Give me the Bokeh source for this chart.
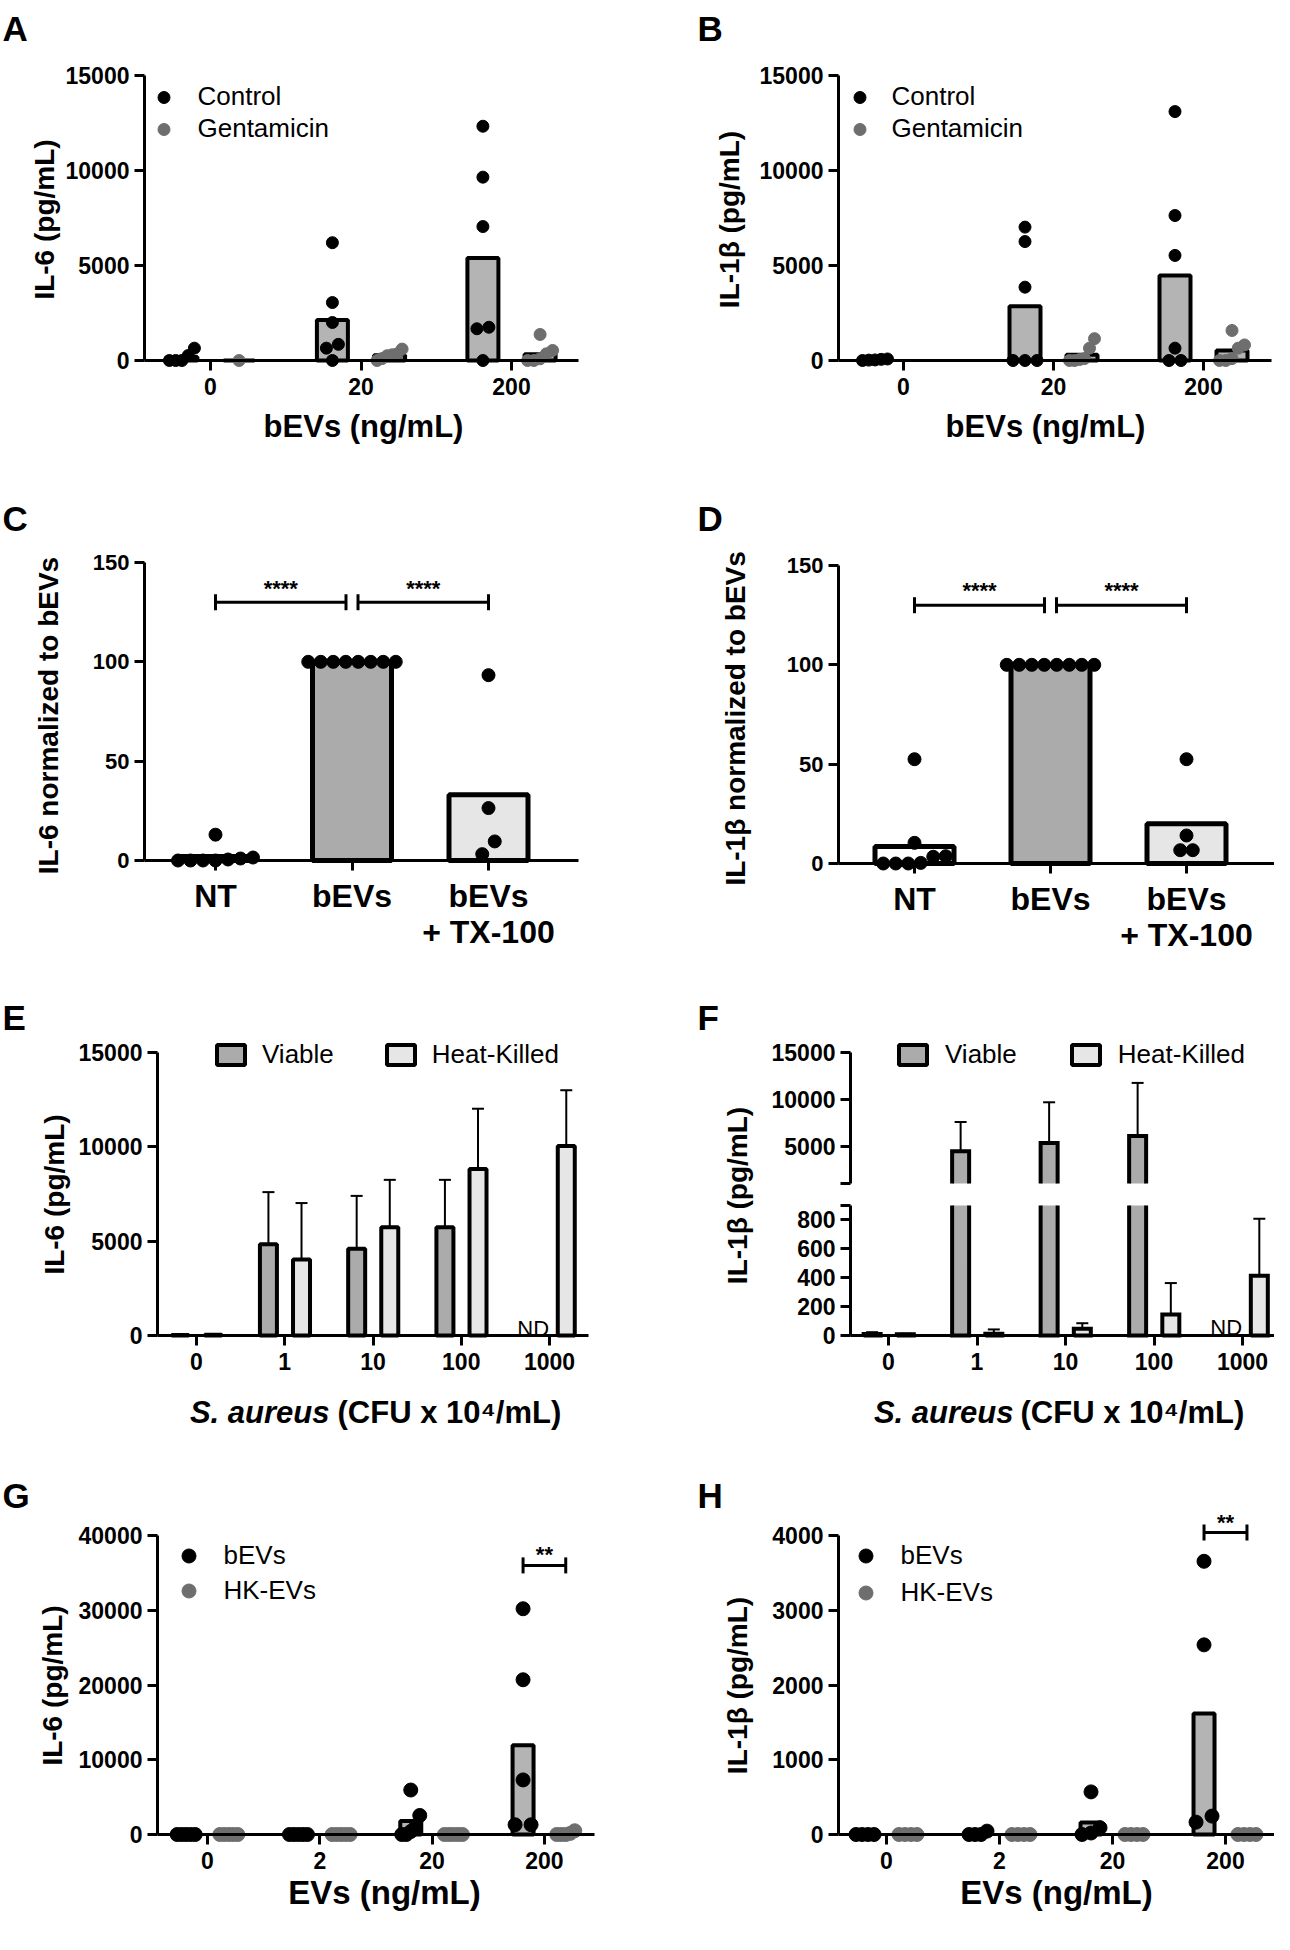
import math
from bokeh.plotting import figure
from bokeh.models import Range1d, FixedTicker, Label, Legend, LegendItem
from bokeh.layouts import row, column
from bokeh.embed import file_html
from bokeh.resources import INLINE

FONT = "Liberation Sans"

# ---------------- data ----------------
cats_AB = ["0", "20", "200"]
A_control = [[650, 260, 0, 0, 0],
             [6200, 3050, 2000, 850, 650, 0],
             [12330, 9650, 7050, 1750, 1670, 0]]
A_gentamicin = [[0],
                [600, 350, 300, 250, 100, 0],
                [1370, 530, 350, 90, 0, 0]]
A_control_bar = [180, 2130, 5400]
A_gentamicin_bar = [0, 270, 330]

B_control = [[80, 60, 30, 20, 0],
             [7020, 6260, 3860, 0, 0, 0],
             [13100, 7630, 5530, 650, 0, 0]]
B_gentamicin = [[],
                [1150, 650, 100, 50, 0, 0],
                [1580, 820, 650, 100, 0, 0]]
B_control_bar = [40, 2860, 4480]
B_gentamicin_bar = [None, 300, 520]

cats_CD = ["NT", "bEVs", "bEVs\n+ TX-100"]
C_points = [[13, 1.5, 1.0, 0.5, 0, 0, 0, 0],
            [100, 100, 100, 100, 100, 100, 100, 100],
            [93.3, 26.4, 9.6, 3.2]]
C_bar = [2.0, 100, 33.1]
D_points = [[52.5, 10.4, 3.7, 3.4, 0.3, 0, 0, 0],
            [100, 100, 100, 100, 100, 100, 100, 100],
            [52.5, 14.1, 6.7, 6.7]]
D_bar = [8.5, 100, 20.0]

cats_EF = ["0", "1", "10", "100", "1000"]
E_viable_mean = [30, 4830, 4600, 5740, None]
E_viable_sd = [0, 2770, 2800, 2510, None]
E_heatkilled_mean = [40, 4030, 5740, 8830, 10050]
E_heatkilled_sd = [0, 2990, 2510, 3190, 2950]
F_viable_mean = [10, 4450, 5320, 6070, None]
F_viable_sd = [13, 3120, 4360, 5680, None]
F_heatkilled_mean = [8, 12, 46, 145, 414]
F_heatkilled_sd = [4, 30, 39, 218, 395]

cats_GH = ["0", "2", "20", "200"]
G_bevs = [[0, 0, 0, 0, 0], [0, 0, 0, 0, 0],
          [5950, 2550, 900, 400, 0, 0], [30200, 20700, 7300, 1300, 1300]]
G_hkevs = [[0, 0, 0, 0, 0], [0, 0, 0, 0, 0], [0, 0, 0, 0, 0], [500, 150, 0, 0, 0]]
G_bevs_bar = [0, 0, 1800, 11950]
G_hkevs_bar = [0, 0, 0, 130]
H_bevs = [[0, 0, 0, 0], [45, 0, 0, 0], [570, 90, 20, 0], [3655, 2537, 246, 165]]
H_hkevs = [[0, 0, 0, 0], [0, 0, 0, 0], [0, 0, 0, 0], [0, 0, 0, 0]]
H_bevs_bar = [0, 10, 160, 1620]
H_hkevs_bar = [0, 0, 0, 0]

# ---------------- styles ----------------
DOT_GRAY = "#6e6e6e"
BAR_GRAY = "#b4b4b4"
BAR_DARK = "#ababab"
BAR_LIGHT = "#e6e6e6"
LETTER_SIZE = 35
TICK_SIZE = 23
YTITLE_SIZE = 28


class Panel:
    """Figure whose frame covers (fl..fr, ft..fb) in page pixels; mapping given by
    category tick positions (tick0, spacing) and two value/pixel pairs."""

    def __init__(self, X0, Y0, W, H, fl, fr, ft, fb, tick0, sp, vtop, ptop, vbot, pbot):
        self.fl, self.fr, self.ft, self.fb = fl, fr, ft, fb
        self.x0 = -(tick0 - fl) / sp
        self.x1 = self.x0 + (fr - fl) / sp
        per = (vtop - vbot) / (pbot - ptop)
        self.y0 = vbot - (fb - pbot) * per
        self.y1 = vtop + (ptop - ft) * per
        self.fig = figure(width=W, height=H,
                          x_range=Range1d(self.x0, self.x1), y_range=Range1d(self.y0, self.y1),
                          min_border_left=int(fl - X0), min_border_right=int(X0 + W - fr),
                          min_border_top=int(ft - Y0), min_border_bottom=int(Y0 + H - fb),
                          output_backend="svg", toolbar_location=None, tools="")
        p = self.fig
        p.xgrid.visible = False
        p.ygrid.visible = False
        p.outline_line_color = None
        p.background_fill_color = "white"
        p.border_fill_color = "white"

    @property
    def px_x(self):
        return (self.fr - self.fl) / (self.x1 - self.x0)

    @property
    def px_y(self):
        return (self.fb - self.ft) / (self.y1 - self.y0)

    def dx(self, px):
        return self.x0 + (px - self.fl) / self.px_x

    def dy(self, py):
        return self.y1 - (py - self.ft) / self.px_y


def style_axes(P, ncat, cat_labels, yticks, ybounds, ax_left, ax_right,
               y_overrides=None, xfs=TICK_SIZE, yfs=TICK_SIZE, show_x=True, x_line_height=1.0):
    p = P.fig
    xa, ya = p.xaxis[0], p.yaxis[0]
    for ax in (xa, ya):
        ax.axis_line_width = 3
        ax.axis_line_color = "black"
        ax.major_tick_line_width = 3
        ax.major_tick_line_color = "black"
        ax.major_tick_out = 10
        ax.major_tick_in = 0
        ax.minor_tick_line_color = None
        ax.major_label_text_font = FONT
        ax.major_label_text_font_style = "bold"
        ax.major_label_text_color = "black"
    if show_x:
        xa.ticker = FixedTicker(ticks=list(range(ncat)))
        xa.major_label_overrides = {i: c for i, c in enumerate(cat_labels)}
        xa.fixed_location = 0
        xa.bounds = (P.dx(ax_left), P.dx(ax_right))
        xa.major_label_text_font_size = f"{xfs}px"
        xa.major_label_text_line_height = x_line_height
        xa.major_label_standoff = 7
    else:
        xa.visible = False
    ya.ticker = FixedTicker(ticks=yticks)
    ya.bounds = ybounds
    ya.fixed_location = P.dx(ax_left)
    ya.major_label_text_font_size = f"{yfs}px"
    ya.major_label_standoff = 5
    if y_overrides:
        ya.major_label_overrides = y_overrides


def spread(vals, px_per_y, diam, spacing, max_span):
    n = len(vals)
    order = sorted(range(n), key=lambda i: vals[i])
    clusters = []
    for i in order:
        if clusters and (vals[i] - vals[clusters[-1][-1]]) * px_per_y < diam:
            clusters[-1].append(i)
        else:
            clusters.append([i])
    off = [0.0] * n
    for cl in clusters:
        m = len(cl)
        s = min(spacing, max_span / (m - 1)) if m > 1 else 0
        for k, i in enumerate(cl):
            off[i] = (k - (m - 1) / 2) * s
    return off


def dots(P, groups, offset, color, diam, spacing, max_span):
    xs, ys = [], []
    for i, vals in enumerate(groups):
        off = spread(vals, P.px_y, diam, spacing, max_span)
        for v, o in zip(vals, off):
            xs.append(i + offset + o / P.px_x)
            ys.append(v)
    return P.fig.scatter(xs, ys, size=diam, fill_color=color, line_color=color)


def bars(P, heights, offset, width_px, fill, lw):
    xs = [i + offset for i, h in enumerate(heights) if h is not None]
    tops = [h for h in heights if h is not None]
    return P.fig.vbar(x=xs, top=tops, bottom=0, width=width_px / P.px_x,
                      fill_color=fill, line_color="black", line_width=lw)


def seg_bars(P, heights, offset, width_px, fill, lw, lo, hi):
    """Part of each bar lying between lo and hi (broken axis); cut ends stay open."""
    hw = width_px / P.px_x / 2
    fx, ftop, fbot, paths_x, paths_y = [], [], [], [], []
    for i, h in enumerate(heights):
        if h is None or h <= lo:
            continue
        x = i + offset
        bot = max(0, lo)
        top = min(h, hi)
        fx.append(x)
        ftop.append(top)
        fbot.append(bot)
        top_closed = h <= hi
        bot_closed = lo <= 0
        l, r = x - hw, x + hw
        if top_closed and bot_closed:
            paths_x.append([l, l, r, r, l])
            paths_y.append([bot, top, top, bot, bot])
        elif top_closed:
            paths_x.append([l, l, r, r])
            paths_y.append([bot, top, top, bot])
        elif bot_closed:
            paths_x.append([l, l, r, r])
            paths_y.append([top, bot, bot, top])
        else:
            paths_x += [[l, l], [r, r]]
            paths_y += [[bot, top], [bot, top]]
    P.fig.vbar(x=fx, top=ftop, bottom=fbot, width=2 * hw, fill_color=fill, line_color=None)
    P.fig.multi_line(xs=paths_x, ys=paths_y, line_color="black", line_width=lw,
                     line_join="miter")
    # swatch renderer for the legend only (its single bar is undefined, so nothing is drawn)
    nan = float("nan")
    return P.fig.vbar(x=[nan], top=[nan], bottom=[nan], width=2 * hw, fill_color=fill,
                      line_color="black", line_width=lw)


def errbars(P, means, sds, offset, lw=2, cap=12, lo=None, hi=None):
    xs, y0, y1 = [], [], []
    for i, (m, s) in enumerate(zip(means, sds)):
        if m is None or s is None or s <= 0:
            continue
        if lo is not None and m < lo:
            continue
        if hi is not None and m + s > hi:
            continue
        xs.append(i + offset)
        y0.append(m)
        y1.append(m + s)
    P.fig.segment(x0=xs, y0=y0, x1=xs, y1=y1, line_width=lw, line_color="black")
    P.fig.scatter(xs, y1, marker="dash", size=cap, line_width=lw, line_color="black")


def bracket(P, xa, xb, y, lw=3, cap=16):
    P.fig.segment(x0=[xa], y0=[y], x1=[xb], y1=[y], line_width=lw, line_color="black")
    P.fig.scatter([xa, xb], [y, y], marker="dash", angle=math.pi / 2, size=cap,
                  line_width=lw, line_color="black")


def txt(P, px, py, text, size, style="bold", align="left", baseline="alphabetic",
        angle=0.0, data_x=None, data_y=None):
    x = P.dx(px) if data_x is None else data_x
    y = P.dy(py) if data_y is None else data_y
    P.fig.add_layout(Label(x=x, y=y, x_units="data", y_units="data", text=text,
                           text_font=FONT, text_font_size=f"{size}px",
                           text_font_style=style, text_align=align,
                           text_baseline=baseline, angle=angle, text_color="black"))


def legend(P, items, left_px, top_px, gw, gh, standoff, spacing, orientation="vertical",
           label_h=30, fs=26):
    n = len(items)
    item_h = max(gh, label_h)
    height = item_h if orientation == "horizontal" else n * item_h + (n - 1) * spacing
    vx = left_px - P.fl
    vy = P.fb - (top_px + height)
    leg = Legend(items=[LegendItem(label=l, renderers=[r]) for l, r in items],
                 location=(vx, vy), orientation=orientation,
                 glyph_width=int(gw), glyph_height=int(gh), label_standoff=int(round(standoff)),
                 spacing=int(spacing), padding=0, margin=0, border_line_color=None,
                 background_fill_alpha=0, label_text_font=FONT,
                 label_text_font_size=f"{fs}px", label_height=int(label_h),
                 label_text_color="black")
    P.fig.add_layout(leg)


def ytitle(P, px, py, text, size):
    txt(P, px, py, text, size, align="center", baseline="middle", angle=math.pi / 2)


# ---------------- panel A / B ----------------
def dose_panel(X0, axl, axr, tick0, sp, control, gent, cbar, gbar, letter, letter_x,
               ylab, ylab_x, xlab_x, mk_x, txt_x):
    P = Panel(X0, 8, 637, 482, X0, X0 + 637, 8, 490, tick0, sp, 15000, 83, 0, 368)
    style_axes(P, 3, cats_AB, [0, 5000, 10000, 15000], (0, 15000), axl, axr)
    bars(P, cbar, -0.19, 31, BAR_GRAY, 4)
    bars(P, gbar, 0.19, 31, BAR_GRAY, 4)
    rc = dots(P, control, -0.19, "black", 12, 12, 25)
    rg = dots(P, gent, 0.19, DOT_GRAY, 12, 12, 25)
    legend(P, [("Control", rc), ("Gentamicin", rg)], mk_x - 16.5, 91, 33, 30,
           txt_x - (mk_x + 16.5), 1)
    txt(P, letter_x, 36, letter, LETTER_SIZE)
    ytitle(P, ylab_x, 227, ylab, YTITLE_SIZE)
    txt(P, xlab_x, 434, "bEVs (ng/mL)", 31, align="center", baseline="middle")
    return P.fig


pA = dose_panel(8, 152, 586, 218, 150.5, A_control, A_gentamicin, A_control_bar,
                A_gentamicin_bar, "A", 10, "IL-6 (pg/mL)", 52, 371, 171, 206)
pB = dose_panel(645, 846, 1279, 911, 150, B_control, B_gentamicin, B_control_bar,
                B_gentamicin_bar, "B", 705, "IL-1β (pg/mL)", 737, 1053, 867, 899)


# ---------------- panel C / D ----------------
def norm_panel(X0, axl, axr, tick0, sp, p150, p0, pts, bar, letter, letter_x,
               ylab, ylab_x, ylab_y, star_y):
    P = Panel(X0, 490, 637, 485, X0, X0 + 637, 490, 975, tick0, sp, 150, p150, 0, p0)
    style_axes(P, 3, cats_CD, [0, 50, 100, 150], (0, 150), axl, axr, xfs=32, yfs=22)
    fills = ["white", BAR_DARK, BAR_LIGHT]
    for i, h in enumerate(bar):
        P.fig.vbar(x=[i], top=[h], bottom=0, width=79 / P.px_x, fill_color=fills[i],
                   line_color="black", line_width=5)
    dots(P, pts, 0.0, "black", 13, 12.5, 90)
    gap = 6 / P.px_x
    bracket(P, 0, 1 - gap, 130)
    bracket(P, 1 + gap, 2, 130)
    txt(P, 0, star_y, "****", 22, align="center", data_x=(1 - gap) / 2)
    txt(P, 0, star_y, "****", 22, align="center", data_x=(3 + gap) / 2)
    txt(P, letter_x, 526, letter, LETTER_SIZE)
    ytitle(P, ylab_x, ylab_y, ylab, 28)
    return P.fig


pC = norm_panel(8, 152, 586, 223, 136.5, 570, 868, C_points, C_bar, "C", 10,
                "IL-6 normalized to bEVs", 56, 723, 596)
pD = norm_panel(645, 846, 1282, 922, 136, 573, 871, D_points, D_bar, "D", 705,
                "IL-1β  normalized to bEVs", 743, 722, 598)

# ---------------- panel E ----------------
PE = Panel(8, 975, 637, 485, 8, 645, 975, 1460, 204, 88.25, 15000, 1060, 0, 1343)
style_axes(PE, 5, cats_EF, [0, 5000, 10000, 15000], (0, 15000), 165, 596)
rv = bars(PE, E_viable_mean, -0.185, 17, BAR_DARK, 4)
rh = bars(PE, E_heatkilled_mean, 0.19, 17, BAR_LIGHT, 4)
errbars(PE, E_viable_mean, E_viable_sd, -0.185)
errbars(PE, E_heatkilled_mean, E_heatkilled_sd, 0.19)
legend(PE, [("Viable", rv), ("Heat-Killed", rh)], 221, 1048, 35, 25, 14, 49,
       orientation="horizontal")
for i, m in enumerate(E_viable_mean):
    if m is None:
        txt(PE, 0, 1336, "ND", 22, style="normal", align="center", data_x=i - 0.185)
txt(PE, 10, 1025, "E", LETTER_SIZE)
ytitle(PE, 62, 1202, "IL-6 (pg/mL)", YTITLE_SIZE)
txt(PE, 337, 1420, "S. aureus", 31, style="bold italic", align="right", baseline="middle")
txt(PE, 345, 1420, "(CFU x 10⁴/mL)", 31, align="left", baseline="middle")
pE = PE.fig

# ---------------- panel F (broken axis: two stacked frames) ----------------
F_BREAK_LOW = 900     # top of the lower segment
F_BREAK_HIGH = 1000   # bottom of the upper segment

PFt = Panel(645, 975, 120, 485, 645, 765, 975, 1460, 645, 1, 1, 975, 0, 1460)
PFt.fig.xaxis.visible = False
PFt.fig.yaxis.visible = False
txt(PFt, 705, 1025, "F", LETTER_SIZE)
ytitle(PFt, 745, 1203, "IL-1β (pg/mL)", YTITLE_SIZE)

PFu = Panel(765, 975, 517, 225, 765, 1282, 975, 1200, 896, 88.5,
            15000, 1060, F_BREAK_HIGH, 1191)
style_axes(PFu, 5, cats_EF, [F_BREAK_HIGH, 5000, 10000, 15000], (F_BREAK_HIGH, 15000),
           858, 1282, y_overrides={F_BREAK_HIGH: ""}, show_x=False)
PFl = Panel(765, 1200, 517, 260, 765, 1282, 1200, 1460, 896, 88.5,
            F_BREAK_LOW, 1213, 0, 1343)
style_axes(PFl, 5, cats_EF, [0, 200, 400, 600, 800, F_BREAK_LOW], (0, F_BREAK_LOW),
           858, 1282, y_overrides={F_BREAK_LOW: ""})
seg_r = []
for P, lo, hi in ((PFu, F_BREAK_HIGH, 1e9), (PFl, -1e9, F_BREAK_LOW)):
    rv = seg_bars(P, F_viable_mean, -0.185, 17, BAR_DARK, 4, lo, hi)
    rh = seg_bars(P, F_heatkilled_mean, 0.19, 17, BAR_LIGHT, 4, lo, hi)
    errbars(P, F_viable_mean, F_viable_sd, -0.185, lo=lo, hi=hi)
    errbars(P, F_heatkilled_mean, F_heatkilled_sd, 0.19, lo=lo, hi=hi)
    seg_r.append((rv, rh))
legend(PFu, [("Viable", seg_r[0][0]), ("Heat-Killed", seg_r[0][1])],
       903, 1048, 35, 25, 15, 51, orientation="horizontal")
for i, m in enumerate(F_viable_mean):
    if m is None:
        txt(PFl, 0, 1335, "ND", 22, style="normal", align="center", data_x=i - 0.185)
txt(PFl, 1021, 1420, "S. aureus", 31, style="bold italic", align="right", baseline="middle")
txt(PFl, 1028, 1420, "(CFU x 10⁴/mL)", 31, align="left", baseline="middle")
pF = row(PFt.fig, column(PFu.fig, PFl.fig))


# ---------------- panel G / H ----------------
def ev_panel(X0, axl, axr, tick0, sp, vtop, yticks, bevs, hk, bbar, hbar, letter, letter_x,
             ylab, ylab_x, xlab_x, mk_x, txt_x, leg_sp, br_y, star_py):
    P = Panel(X0, 1460, 637, 482, X0, X0 + 637, 1460, 1942, tick0, sp, vtop, 1543, 0, 1842)
    style_axes(P, 4, cats_GH, yticks, (0, vtop), axl, axr)
    bars(P, bbar, -0.19, 21, BAR_GRAY, 4)
    bars(P, hbar, 0.19, 21, BAR_GRAY, 4)
    rb = dots(P, bevs, -0.19, "black", 14, 16, 18)
    rk = dots(P, hk, 0.19, DOT_GRAY, 14, 16, 18)
    legend(P, [("bEVs", rb), ("HK-EVs", rk)], mk_x - 17.5, 1545.5, 35, 35,
           txt_x - (mk_x + 17.5), leg_sp, label_h=35)
    bracket(P, 3 - 0.19, 3 + 0.19, br_y)
    txt(P, 0, star_py, "**", 22, align="center", data_x=3)
    txt(P, letter_x, 1503, letter, LETTER_SIZE)
    ytitle(P, ylab_x, 1693, ylab, YTITLE_SIZE)
    txt(P, xlab_x, 1900, "EVs (ng/mL)", 33, align="center", baseline="middle")
    return P.fig


pG = ev_panel(8, 165, 602, 215, 112.3, 40000, [0, 10000, 20000, 30000, 40000],
              G_bevs, G_hkevs, G_bevs_bar, G_hkevs_bar, "G", 10, "IL-6 (pg/mL)", 60, 392,
              196, 231, 0, 36000, 1562)
pH = ev_panel(645, 846, 1282, 894, 113, 4000, [0, 1000, 2000, 3000, 4000],
              H_bevs, H_hkevs, H_bevs_bar, H_hkevs_bar, "H", 705, "IL-1β (pg/mL)", 745, 1064,
              873, 908, 2, 4040, 1530)

layout = column(row(pA, pB), row(pC, pD), row(pE, pF), row(pG, pH))
open("out.html", "w").write(file_html(layout, INLINE))
